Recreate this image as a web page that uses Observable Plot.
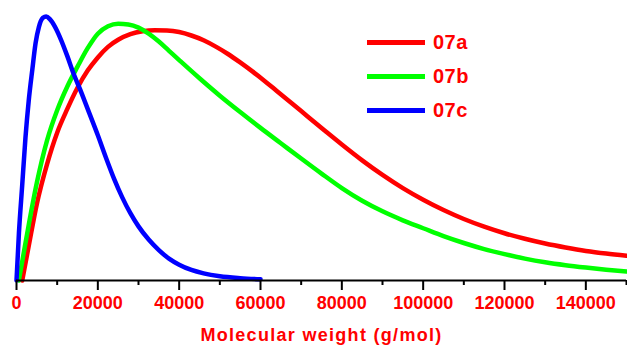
<!DOCTYPE html>
<html>
<head>
<meta charset="utf-8">
<script src="https://cdn.jsdelivr.net/npm/d3@7"></script>
<script src="https://cdn.jsdelivr.net/npm/@observablehq/plot@0.6"></script>
<style>
  html, body { margin: 0; padding: 0; background: #fff; }
  #wrap { position: relative; width: 627px; height: 347px; font-family: "Liberation Sans", Arial, sans-serif; }
  #legend { position: absolute; left: 367px; top: 25px; }
  .row { display: flex; align-items: center; height: 34px; }
  .sw { width: 58px; height: 5px; }
  .lab { margin-left: 8px; font-weight: bold; font-size: 20px; color: #ff0000; letter-spacing: 0.5px; }
</style>
</head>
<body>
<div id="wrap"><div id="legend"></div></div>
<script>
const seriesNames = ["07a", "07b", "07c"];
const seriesColors = ["#ff0000", "#00ff00", "#0000ff"];

// Molecular weight (g/mol) and normalised intensity
const mw07a = [1400, 3000, 5000, 7500, 10000, 12500, 15000, 17500, 20000, 22500, 25000, 28000, 31000, 34000, 37000, 40000, 43000, 46000, 49000, 52000, 55000, 58000, 61000, 64000, 67000, 70000, 73000, 76000, 80000, 85000, 90000, 95000, 100000, 105000, 110000, 115000, 120000, 125000, 130000, 135000, 140000, 145000, 150000];
const val07a = [0, 0.13, 0.29, 0.44, 0.56, 0.65, 0.73, 0.795, 0.845, 0.885, 0.912, 0.933, 0.944, 0.948, 0.947, 0.941, 0.928, 0.91, 0.886, 0.858, 0.826, 0.792, 0.756, 0.718, 0.68, 0.642, 0.603, 0.565, 0.515, 0.455, 0.4, 0.35, 0.306, 0.267, 0.233, 0.204, 0.179, 0.158, 0.14, 0.125, 0.112, 0.102, 0.094];

const mw07b = [570, 1500, 3000, 5000, 7500, 10000, 12500, 15000, 17500, 20000, 22500, 25000, 27500, 30000, 32500, 35000, 37500, 40000, 45000, 50000, 55000, 60000, 65000, 70000, 75000, 80000, 85000, 90000, 95000, 100000, 105000, 110000, 115000, 120000, 125000, 130000, 135000, 140000, 145000, 150000];
const val07b = [0, 0.08, 0.21, 0.37, 0.53, 0.645, 0.735, 0.81, 0.88, 0.935, 0.963, 0.973, 0.97, 0.958, 0.935, 0.905, 0.87, 0.835, 0.766, 0.7, 0.638, 0.578, 0.52, 0.462, 0.405, 0.35, 0.302, 0.262, 0.228, 0.198, 0.168, 0.142, 0.119, 0.1, 0.083, 0.069, 0.058, 0.049, 0.041, 0.034];

const mw07c = [0, 600, 1400, 2200, 3000, 3900, 4700, 5500, 6500, 7300, 8200, 9500, 11000, 12500, 14000, 16000, 18000, 20000, 22000, 24000, 26000, 28000, 30000, 32500, 35000, 37500, 40000, 43000, 46000, 50000, 55000, 60000];
const val07c = [0, 0.18, 0.36, 0.54, 0.68, 0.80, 0.90, 0.96, 0.995, 1.0, 0.99, 0.96, 0.91, 0.85, 0.785, 0.71, 0.63, 0.55, 0.465, 0.385, 0.315, 0.255, 0.205, 0.155, 0.115, 0.083, 0.06, 0.04, 0.027, 0.016, 0.009, 0.005];

const majorTicks = [0, 20000, 40000, 60000, 80000, 100000, 120000, 140000];
const minorTicks = [10000, 30000, 50000, 70000, 90000, 110000, 130000, 150000];
const xTitle = "Molecular weight (g/mol)";

const rows = [];
const add = (name, xs, ys) => xs.forEach((x, i) => rows.push({series: name, mw: x, v: ys[i]}));
add("07a", mw07a, val07a);
add("07b", mw07b, val07b);
add("07c", mw07c, val07c);

const chart = Plot.plot({
  width: 627,
  height: 347,
  marginLeft: 16,
  marginRight: 1,
  marginTop: 16,
  marginBottom: 67,
  style: {fontFamily: "Liberation Sans, Arial, sans-serif", fontWeight: "bold", background: "#fff"},
  x: {domain: [0, 150000]},
  y: {domain: [0, 1], axis: null},
  color: {domain: seriesNames, range: seriesColors},
  marks: [
    Plot.line(rows, {x: "mw", y: "v", z: "series", stroke: "series", strokeWidth: 4.5, curve: "monotone-x", strokeLinejoin: "round"}),
    Plot.ruleY([0], {stroke: "#000", strokeWidth: 2}),
    Plot.axisX({ticks: minorTicks, tickSize: 5, text: null, stroke: "#000", strokeWidth: 2, label: null}),
    Plot.axisX({ticks: majorTicks, tickSize: 10, text: null, stroke: "#000", strokeWidth: 2, label: null}),
    Plot.axisX({ticks: majorTicks, tickSize: 0, tickPadding: 16, tickFormat: d => String(d), fill: "#ff0000", fontSize: 18, fontWeight: "bold", label: null}),
    Plot.axisX({ticks: [], label: xTitle, labelArrow: "none", labelAnchor: "center", labelOffset: 60, fill: "#ff0000", fontSize: 18, fontWeight: "bold"})
  ]
});
chart.querySelectorAll("text").forEach(t => { if (t.textContent.includes("Molecular")) t.setAttribute("letter-spacing", "1.3"); });
document.getElementById("wrap").prepend(chart);

const legend = document.getElementById("legend");
seriesNames.forEach((n, i) => {
  const r = document.createElement("div");
  r.className = "row";
  const sw = document.createElement("div");
  sw.className = "sw";
  sw.style.background = seriesColors[i];
  const lab = document.createElement("span");
  lab.className = "lab";
  lab.textContent = n;
  r.append(sw, lab);
  legend.append(r);
});
</script>
</body>
</html>
